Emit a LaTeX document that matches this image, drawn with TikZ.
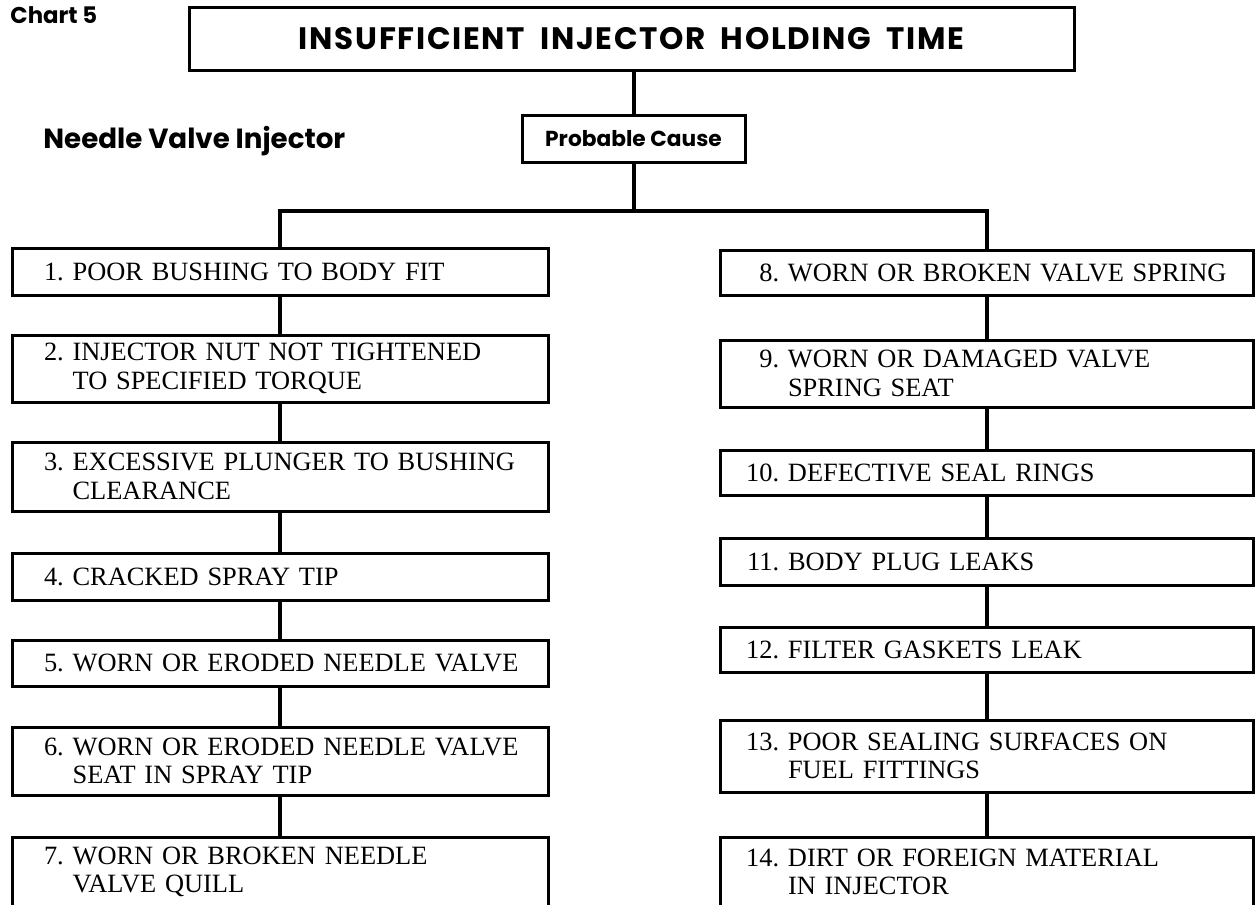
\documentclass[tikz,border=0pt]{standalone}
\usepackage{fontspec}
\setmainfont{Liberation Serif}
\newfontfamily\headfont{Poppins}
\newfontfamily\headwide{Poppins}[LetterSpace=5.5,WordSpace=1.8]
\usepackage{tikz}
\newlength{\numwd}
\setlength{\numwd}{19.8pt}
\newcommand{\cause}[2]{\makebox[\numwd][r]{#1.~}#2}
\newcommand{\nextline}{\\\hspace*{\numwd}}

\begin{document}
\begin{tikzpicture}[x=0.5pt,y=-0.5pt,
        box/.style={draw,line width=1.5pt,rectangle,inner sep=0pt},
        head/.style={font=\headfont\bfseries\fontsize{#1}{#1}\selectfont,inner sep=0pt},
        cause/.style={box,align=left,text width=247pt,inner xsep=10.5pt,
                font=\fontsize{13.2}{14.25}\selectfont},
        rcause/.style={cause,text width=245.5pt,
                execute at begin node={\setlength{\numwd}{23.5pt}}},
        link/.style={line width=2pt}]
                \useasboundingbox (0,0) rectangle (1255,905);
                \node[head=11.4,anchor=base west] (chart) at (10,23) {Chart 5};
                \node[head=13.85,anchor=base west] (sub) at (43,148) {Needle Valve Injector};
                \node[box,minimum width=442.5pt,minimum height=31.5pt,inner sep=0pt,
                        font=\headwide\bfseries\fontsize{15.5}{15.5}\selectfont] (title) at (631.5,38.5) {INSUFFICIENT INJECTOR HOLDING TIME};
                \node[box,head=10.85,minimum width=111.5pt,minimum height=23.5pt] (pc) at (633.5,138.5) {Probable Cause};
                \coordinate (bus) at (633.5,211);

                \node[cause,minimum height=23.5pt] (c1) at (280,271.5) {\cause{1}{POOR BUSHING TO BODY FIT}};
                \node[cause,minimum height=33.5pt] (c2) at (280,368.5) {\cause{2}{INJECTOR NUT NOT TIGHTENED}\nextline TO SPECIFIED TORQUE};
                \node[cause,minimum height=34.5pt] (c3) at (280,476.5) {\cause{3}{EXCESSIVE PLUNGER TO BUSHING}\nextline CLEARANCE};
                \node[cause,minimum height=23.5pt] (c4) at (280,576.5) {\cause{4}{CRACKED SPRAY TIP}};
                \node[cause,minimum height=23pt] (c5) at (280,663) {\cause{5}{WORN OR ERODED NEEDLE VALVE}};
                \node[cause,minimum height=34pt] (c6) at (280,761) {\cause{6}{WORN OR ERODED NEEDLE VALVE}\nextline SEAT IN SPRAY TIP};
                \node[cause,minimum height=35pt] (c7) at (280,872) {\cause{7}{WORN OR BROKEN NEEDLE}\nextline VALVE QUILL};

                \node[rcause,minimum height=22.5pt] (c8) at (986.5,272.5) {\cause{8}{WORN OR BROKEN VALVE SPRING}};
                \node[rcause,minimum height=33.5pt] (c9) at (986.5,373.5) {\cause{9}{WORN OR DAMAGED VALVE}\nextline SPRING SEAT};
                \node[rcause,minimum height=22.5pt] (c10) at (986.5,472.5) {\cause{10}{DEFECTIVE SEAL RINGS}};
                \node[rcause,minimum height=23.5pt] (c11) at (986.5,561.5) {\cause{11}{BODY PLUG LEAKS}};
                \node[rcause,minimum height=22.5pt] (c12) at (986.5,649.5) {\cause{12}{FILTER GASKETS LEAK}};
                \node[rcause,minimum height=36pt] (c13) at (986.5,756) {\cause{13}{POOR SEALING SURFACES ON}\nextline FUEL FITTINGS};
                \node[rcause,minimum height=35pt] (c14) at (986.5,872) {\cause{14}{DIRT OR FOREIGN MATERIAL}\nextline IN INJECTOR};

                \draw[link] (pc) -- (pc |- title.south);
                \draw[link] (pc) -- (bus);
                \draw[link] (c1) |- (bus) -| (c8);
                \foreach \a/\b in {c1/c2,c2/c3,c3/c4,c4/c5,c5/c6,c6/c7,c8/c9,c9/c10,c10/c11,c11/c12,c12/c13,c13/c14}
                        \draw[link] (\a) -- (\b);
\end{tikzpicture}
\end{document}
